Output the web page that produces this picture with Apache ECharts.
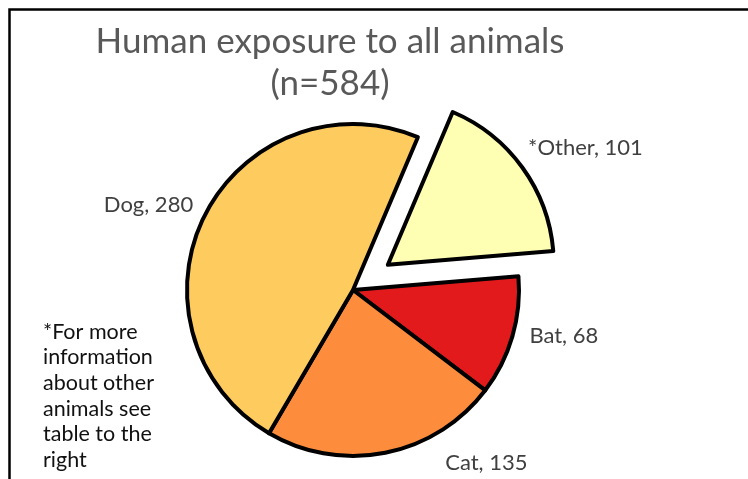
<!DOCTYPE html>
<html>
<head>
<meta charset="utf-8">
<script src="https://cdn.jsdelivr.net/npm/echarts@6/dist/echarts.min.js"></script>
<style>html,body{margin:0;padding:0;background:#fff;}#c{width:748px;height:479px;}</style>
</head>
<body>
<div id="c"></div>
<script>
const categories = ['*Other', 'Bat', 'Cat', 'Dog'];
const values = [101, 68, 135, 280];
const colors = ['#FFFFB3', '#E31A1C', '#FD8D3C', '#FECB5F'];
const titleText = 'Human exposure to all animals\n(n=584)';
const footnote = '*For more\ninformation\nabout other\nanimals see\ntable to the\nright';

// label placement tuning (style, not data)
const labelTune = {
  '*Other': {len: 33, dist: -21},
  'Bat': {len: 0, dist: 17},
  'Cat': {len: 10, dist: 58},
  'Dog': {len: 23, dist: -9}
};

const chart = echarts.init(document.getElementById('c'));
const data = categories.map((c, i) => ({
  name: c,
  value: values[i],
  selected: c === '*Other',
  itemStyle: {color: colors[i]},
  labelLine: {show: false, length: labelTune[c].len, length2: 0},
  label: {distanceToLabelLine: labelTune[c].dist}
}));

chart.setOption({
  animation: false,
  title: {
    text: titleText,
    left: 325,
    top: 16,
    textAlign: 'center',
    textStyle: {fontFamily: 'Lato', fontSize: 35, fontWeight: 'normal', color: '#595959', lineHeight: 42}
  },
  graphic: [
    {type: 'rect', left: 7, top: 7, shape: {width: 780, height: 520},
     style: {fill: 'none', stroke: '#000', lineWidth: 2.5}, silent: true},
    {type: 'text', left: 43, top: 319,
     style: {text: footnote, fontFamily: 'Lato', fontSize: 21.5, lineHeight: 25.6, fill: '#111'}}
  ],
  series: [{
    type: 'pie',
    center: [353, 290],
    radius: 166,
    startAngle: 67,
    clockwise: true,
    selectedMode: 'single',
    selectedOffset: 43,
    avoidLabelOverlap: false,
    emphasis: {disabled: true},
    itemStyle: {borderColor: '#000', borderWidth: 4},
    label: {
      show: true,
      position: 'outside',
      formatter: p => p.name + ', ' + p.value,
      fontFamily: 'Lato',
      fontSize: 22,
      color: '#404040'
    },
    data: data
  }]
});
</script>
</body>
</html>
